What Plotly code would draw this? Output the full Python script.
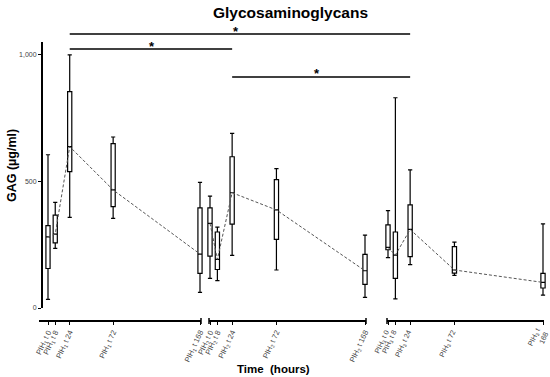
import plotly.graph_objects as go

# ---------------- data ----------------
hours = [0, 8, 24, 72, 168]
tick_text_1 = ["PIH<sub>1</sub> t 0", "PIH<sub>1</sub> t 8", "PIH<sub>1</sub> t 24", "PIH<sub>1</sub> t 72", "PIH<sub>1</sub> t 168"]
tick_text_2 = ["PIH<sub>2</sub> t 0", "PIH<sub>2</sub> t 8", "PIH<sub>2</sub> t 24", "PIH<sub>2</sub> t 72", "PIH<sub>2</sub> t 168"]
tick_text_3 = ["PIH<sub>3</sub> t 0", "PIH<sub>3</sub> t 8", "PIH<sub>3</sub> t 24", "PIH<sub>3</sub> t 72", "PIH<sub>3</sub> t<br>168"]

pih1_low = [34, 235, 358, 354, 62]
pih1_q1 = [156, 257, 538, 400, 137]
pih1_med = [281, 292, 637, 466, 213]
pih1_q3 = [325, 367, 854, 649, 395]
pih1_high = [605, 417, 999, 675, 496]

pih2_low = [117, 108, 208, 150, 42]
pih2_q1 = [205, 152, 331, 271, 93]
pih2_med = [334, 192, 455, 387, 147]
pih2_q3 = [395, 300, 597, 507, 212]
pih2_high = [442, 319, 689, 550, 288]

pih3_low = [199, 36, 171, 129, 51]
pih3_q1 = [230, 117, 203, 138, 79]
pih3_med = [239, 209, 310, 150, 101]
pih3_q3 = [328, 300, 407, 242, 137]
pih3_high = [384, 830, 545, 260, 332]

# significance comparisons: (segment, hour) -> (segment, hour)
sig_pairs = [((1, 24), (3, 24)), ((1, 24), (2, 24)), ((2, 24), (3, 24))]
sig_labels = ["*", "*", "*"]

# ---------------- layout geometry ----------------
W, H = 550, 377
# screen coordinates of the paper area
SL, SR, ST, SB = 39, 549, 20, 321
ML, MR, MT, MB = SL, W - SR, ST, H - SB
PW = W - ML - MR
PH = H - MT - MB

def px2x(px):
    return (px - SL) / PW

def py2y(py):
    return (SB - py) / PH

s1 = 152 / 168.0   # px per hour, segment 1
s2 = 155 / 168.0   # px per hour, segments 2 and 3
# data areas (slightly wider than the drawn axis lines so end boxes are not clipped)
seg = {
    1: dict(dom=[px2x(39), px2x(205)], rng=[-9 / s1, 168 + 5 / s1], line=(39, 201)),
    2: dict(dom=[px2x(205), px2x(370)], rng=[-5 / s2, 168 + 5 / s2], line=(209, 366)),
    3: dict(dom=[px2x(383), px2x(548)], rng=[-5 / s2, 168 + 5 / s2], line=(387, 544)),
}

def hour2paper(k, h):
    d0, d1 = seg[k]["dom"]
    r0, r1 = seg[k]["rng"]
    return d0 + (h - r0) / (r1 - r0) * (d1 - d0)

y_dom = [py2y(308), py2y(42)]
y_rng = [0, 1050]

fig = go.Figure()

series = [
    (1, "x", pih1_low, pih1_q1, pih1_med, pih1_q3, pih1_high),
    (2, "x2", pih2_low, pih2_q1, pih2_med, pih2_q3, pih2_high),
    (3, "x3", pih3_low, pih3_q1, pih3_med, pih3_q3, pih3_high),
]

for k, xa, lo, q1, med, q3, hi in series:
    fig.add_trace(go.Scatter(
        x=hours, y=med, mode="lines", xaxis=xa, yaxis="y",
        line=dict(color="#555555", width=1, dash="3px,2px"),
        showlegend=False, hoverinfo="skip"))
    fig.add_trace(go.Box(
        x=hours, q1=q1, median=med, q3=q3, lowerfence=lo, upperfence=hi,
        xaxis=xa, yaxis="y", width=4.6, whiskerwidth=1,
        fillcolor="white", line=dict(color="black", width=1.2),
        boxpoints=False, showlegend=False))

def xaxis_style(size, shift=0):
    return dict(
        showline=False, ticks="outside",
        ticklen=3, tickwidth=1.3, tickcolor="black", showgrid=False, zeroline=False,
        tickmode="array", tickvals=hours, tickangle=-65, automargin=False,
        ticklabeloverflow="allow", ticklabelshift=shift,
        tickfont=dict(family="Liberation Sans, Arial", size=size, color="#444444"),
        anchor="free", position=0,
    )

fig.update_layout(
    width=W, height=H,
    margin=dict(l=ML, r=MR, t=MT, b=MB, autoexpand=False),
    paper_bgcolor="white", plot_bgcolor="white",
    font=dict(family="Liberation Sans, Arial", color="black"),
    xaxis=dict(domain=seg[1]["dom"], range=seg[1]["rng"], ticktext=tick_text_1, **xaxis_style(7.5)),
    xaxis2=dict(domain=seg[2]["dom"], range=seg[2]["rng"], ticktext=tick_text_2, **xaxis_style(7.5)),
    xaxis3=dict(domain=seg[3]["dom"], range=seg[3]["rng"], ticktext=tick_text_3, **xaxis_style(7.2, -2)),
    yaxis=dict(domain=y_dom, range=y_rng, anchor="free", position=px2x(42), automargin=False,
               showline=True, linecolor="black", linewidth=2, ticks="outside",
               ticklen=3, tickwidth=1.3, tickcolor="black", showgrid=False, zeroline=False,
               tickvals=[0, 500, 1000], tickformat=",",
               tickfont=dict(family="Liberation Sans, Arial", size=7, color="#444444")),
    showlegend=False,
)

shapes = []
# broken x-axis lines and break marks
for k in (1, 2, 3):
    a, b = seg[k]["line"]
    shapes.append(dict(type="line", xref="paper", yref="paper",
                       x0=px2x(a), x1=px2x(b), y0=0, y1=0,
                       line=dict(color="black", width=2)))
for px in [201, 209, 366, 387]:
    shapes.append(dict(type="line", xref="paper", yref="paper",
                       x0=px2x(px), x1=px2x(px), y0=-3 / PH, y1=3 / PH,
                       line=dict(color="black", width=1.5)))

sig_y_px = [34, 49, 77]
annotations = []
for (a, b), ypx, lab in zip(sig_pairs, sig_y_px, sig_labels):
    xa = hour2paper(*a)
    xb = hour2paper(*b)
    shapes.append(dict(type="line", xref="paper", yref="paper",
                       x0=xa, x1=xb, y0=py2y(ypx), y1=py2y(ypx),
                       line=dict(color="black", width=1.6)))
    annotations.append(dict(xref="paper", yref="paper",
                            x=(xa + xb) / 2 - 4 / PW, y=py2y(ypx - 3),
                            text="<b>" + lab + "</b>", showarrow=False,
                            font=dict(size=13, color="black"), yanchor="middle"))

annotations.append(dict(xref="paper", yref="paper", x=px2x(290), y=py2y(13),
                        text="<b>Glycosaminoglycans</b>", showarrow=False,
                        font=dict(size=15.5, color="black"), xanchor="center", yanchor="middle"))
annotations.append(dict(xref="paper", yref="paper", x=px2x(273), y=py2y(369),
                        text="<b>Time  (hours)</b>", showarrow=False,
                        font=dict(size=11.5, color="black"), xanchor="center", yanchor="middle"))
annotations.append(dict(xref="paper", yref="paper", x=px2x(12), y=py2y(166),
                        text="<b>GAG (µg/ml)</b>", showarrow=False, textangle=-90,
                        font=dict(size=12.5, color="black"), xanchor="center", yanchor="middle"))

fig.update_layout(shapes=shapes, annotations=annotations)

fig.write_html(
    "out.html",
    config={"displayModeBar": False},
    post_script="document.body.style.margin='0';document.body.style.overflow='hidden';",
)
